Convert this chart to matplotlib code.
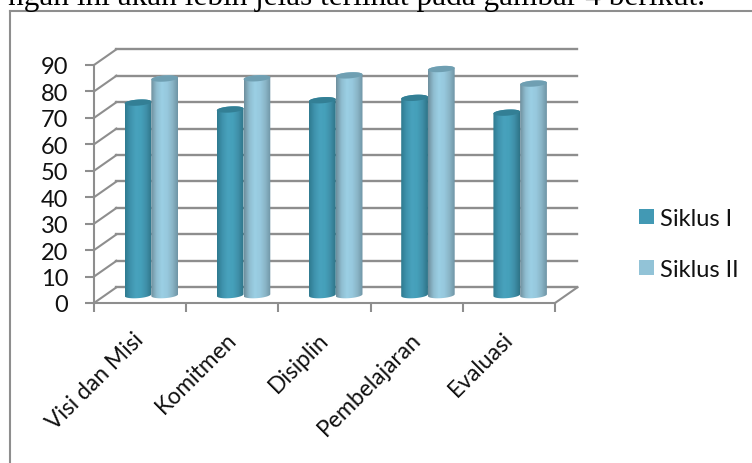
import numpy as np
from matplotlib import pyplot as plt
from matplotlib.colors import LinearSegmentedColormap
from matplotlib.patches import Patch, PathPatch
from matplotlib.path import Path

categories = ['Visi dan Misi', 'Komitmen', 'Disiplin', 'Pembelajaran', 'Evaluasi']
siklus_1 = [72.8, 70.2, 73.7, 74.6, 69.0]
siklus_2 = [81.9, 82.0, 83.1, 85.5, 80.0]
y_ticks = [0, 10, 20, 30, 40, 50, 60, 70, 80, 90]
series_names = ['Siklus I', 'Siklus II']

W, H = 752, 464
GRAY = '#8e8e8e'

# pseudo 3D depth of the box, in data units
depth_x = 0.244
depth_y = 5.95
bar_w = 0.29
ell_h = 1.15  # half height of the cylinder ends
tilt = 0.35   # the ends lean a little

plt.rcParams['font.family'] = ['Lato', 'DejaVu Sans']
fig = plt.figure(figsize=(W/100, H/100), dpi=100)

### Axes placed on the front edge of the box
ax = fig.add_axes([94/W, 1-304/H, (555-94)/W, (304-66)/H])
ax.set_xlim(0, 5)
ax.set_ylim(0, 90)
ax.patch.set_visible(False)
for s in ['top', 'right']:
    ax.spines[s].set_visible(False)
for s in ['left', 'bottom']:
    ax.spines[s].set_color(GRAY)
    ax.spines[s].set_linewidth(1.5)

ax.set_yticks(y_ticks)
ax.set_xticks(range(6))
ax.set_xticklabels([])
ax.tick_params(axis='both', color=GRAY, width=1.5, length=6.5)
ax.tick_params(axis='y', labelsize=17, pad=12, labelcolor='#111111')

for i, c in enumerate(categories):
    ax.annotate(c, (i+0.5, 0), xytext=(-5, -18), textcoords='offset points',
                rotation=45, ha='right', va='top', rotation_mode='anchor',
                fontsize=16.5, color='#111111', annotation_clip=False)

### Walls and floor
for v in y_ticks:
    ax.plot([0, depth_x], [v, v+depth_y], color=GRAY, lw=1.5, clip_on=False, zorder=1)
    ax.plot([depth_x, 5+depth_x], [v+depth_y, v+depth_y], color=GRAY, lw=1.7,
            clip_on=False, zorder=1)
ax.plot([5, 5+depth_x], [0, depth_y], color=GRAY, lw=1.5, clip_on=False, zorder=1)

### Cylinders
cmap_1 = LinearSegmentedColormap.from_list('s1', ['#2f7a90', '#3f93ad', '#48a2bd', '#45a0ba', '#3f8fa8', '#2f7488'])
cmap_2 = LinearSegmentedColormap.from_list('s2', ['#6f8f9d', '#8fbdd0', '#9bcfe4', '#97c9de', '#8ab5c7', '#6f95a5'])
grad = np.linspace(0, 1, 64).reshape(1, -1)


def cylinder(xc, value, cmap, top_color):
    # the cylinders stand half way into the box depth
    base = depth_y/2
    top = base + value
    t = np.linspace(0, np.pi, 40)
    x_arc = xc + bar_w/2*np.cos(t)
    shear = tilt*np.cos(t)
    # outline: bottom front arc, then up and over the top
    xs = np.r_[x_arc[::-1], x_arc]
    ys = np.r_[base - ell_h*np.sin(t[::-1]) + shear[::-1], top + ell_h*np.sin(t) + shear]
    verts = np.c_[xs, ys]
    body = PathPatch(Path(np.r_[verts, verts[:1]], closed=True), transform=ax.transData,
                     fc='none', ec='none')
    ax.add_patch(body)
    im = ax.imshow(grad, cmap=cmap, aspect='auto', zorder=3, interpolation='bilinear',
                   extent=(xc-bar_w/2, xc+bar_w/2, base-ell_h-tilt, top+ell_h+tilt))
    im.set_clip_path(body)
    ys_cap = np.r_[top - ell_h*np.sin(t[::-1]) + shear[::-1], top + ell_h*np.sin(t) + shear]
    ax.fill(xs, ys_cap, color=top_color, zorder=4, clip_on=False, lw=0)


for i in range(len(categories)):
    xc = i + 0.5 + depth_x/2
    cylinder(xc - bar_w/2, siklus_1[i], cmap_1, '#337f95')
    cylinder(xc + bar_w/2, siklus_2[i], cmap_2, '#6f9fb2')

ax.set_xlim(0, 5)
ax.set_ylim(0, 90)

### Legend
handles = [Patch(fc='#4299b4', ec='none'), Patch(fc='#92c3d7', ec='none')]
fig.legend(handles, series_names, loc='upper left', bbox_to_anchor=(639/W, 1-209/H),
           frameon=False, fontsize=17, handlelength=0.635, handleheight=0.635,
           handletextpad=0.25, labelspacing=1.27, borderpad=0, borderaxespad=0,
           labelcolor='#111111')

### Chart frame (runs off the picture on two sides) and cut page text
fig.add_artist(plt.Line2D([10/W, 10/W], [0, 1-12/H], color=GRAY, lw=1.5))
fig.add_artist(plt.Line2D([10/W, 1], [1-12/H, 1-12/H], color=GRAY, lw=1.5))
fig.text(8/W, 1-5.5/H, 'ngan ini akan lebih jelas terlihat pada gambar 4 berikut.',
         family='Liberation Serif', fontsize=22.5, color='black', va='baseline')

fig.savefig('out.png', dpi=100)
